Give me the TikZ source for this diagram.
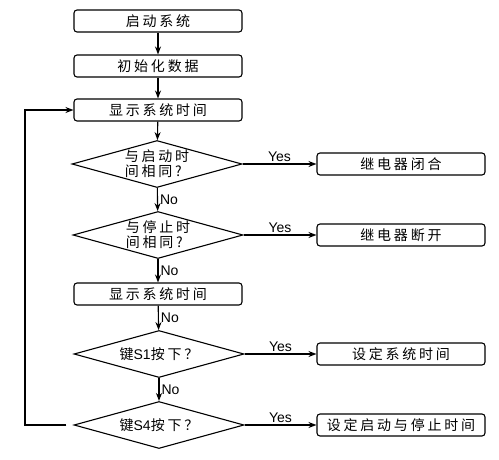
\documentclass[tikz,border=0pt]{standalone}
\usepackage{fontspec}
\setmainfont{Liberation Sans}
\newfontfamily\cjk[LetterSpace=20]{Noto Sans CJK SC}
\usetikzlibrary{shapes.geometric,arrows.meta}

\begin{document}
\begin{tikzpicture}[x=1pt,y=-1pt,line width=1.1pt,
        >={Stealth[length=8pt,width=6pt]},
        every node/.style={font=\cjk\fontsize{14}{15}\selectfont},
        box/.style={draw,rounded corners=3pt,minimum width=168pt,minimum height=22pt,inner sep=0pt},
        test/.style={draw,diamond,aspect=3.4,minimum width=170pt,minimum height=47pt,inner sep=0pt,align=left},
        lbl/.style={font=\fontsize{14}{15}\selectfont,inner sep=2pt}]
            \useasboundingbox (0,0) rectangle (499,459);

            \node[box] (start) at (158,21) {启动系统};
            \node[box] (init) at (158,66) {初始化数据};
            \node[box] (show) at (158,110) {显示系统时间};
            \node[test] (on) at (157,164) {与启动时\\间相同?};
            \node[test] (off) at (158,235) {与停止时\\间相同?};
            \node[box] (show2) at (158,294) {显示系统时间};
            \node[test] (sone) at (159,354) {键{\rmfamily S1}按下？};
            \node[test] (sfour) at (159,425) {键{\rmfamily S4}按下？};
            
            \node[box] (close) at (401,164) {继电器闭合};
            \node[box] (open) at (401,235) {继电器断开};
            \node[box] (setclk) at (401,354) {设定系统时间};
            \node[box] (settime) at (401,425) {设定启动与停止时间};
            \coordinate (loop) at (25,425);
            
            \path [->] (start) edge (init);
            \path [->] (init) edge (show);
            \path [->] (show) edge (on);
            \path [->] (on) edge node[lbl,right] {No} (off);
            \path [->] (off) edge node[lbl,right] {No} (show2);
            \path [->] (show2) edge node[lbl,right] {No} (sone);
            \path [->] (sone) edge node[lbl,right] {No} (sfour);
            
            \path [->] (on) edge node[lbl,above] {Yes} (close);
            \path [->] (off) edge node[lbl,above] {Yes} (open);
            \path [->] (sone) edge node[lbl,above] {Yes} (setclk);
            \path [->] (sfour) edge node[lbl,above] {Yes} (settime);
            
            \draw [->,shorten <=7pt] (sfour.west) -- (loop) |- (show.west);
        \end{tikzpicture}
\end{document}
